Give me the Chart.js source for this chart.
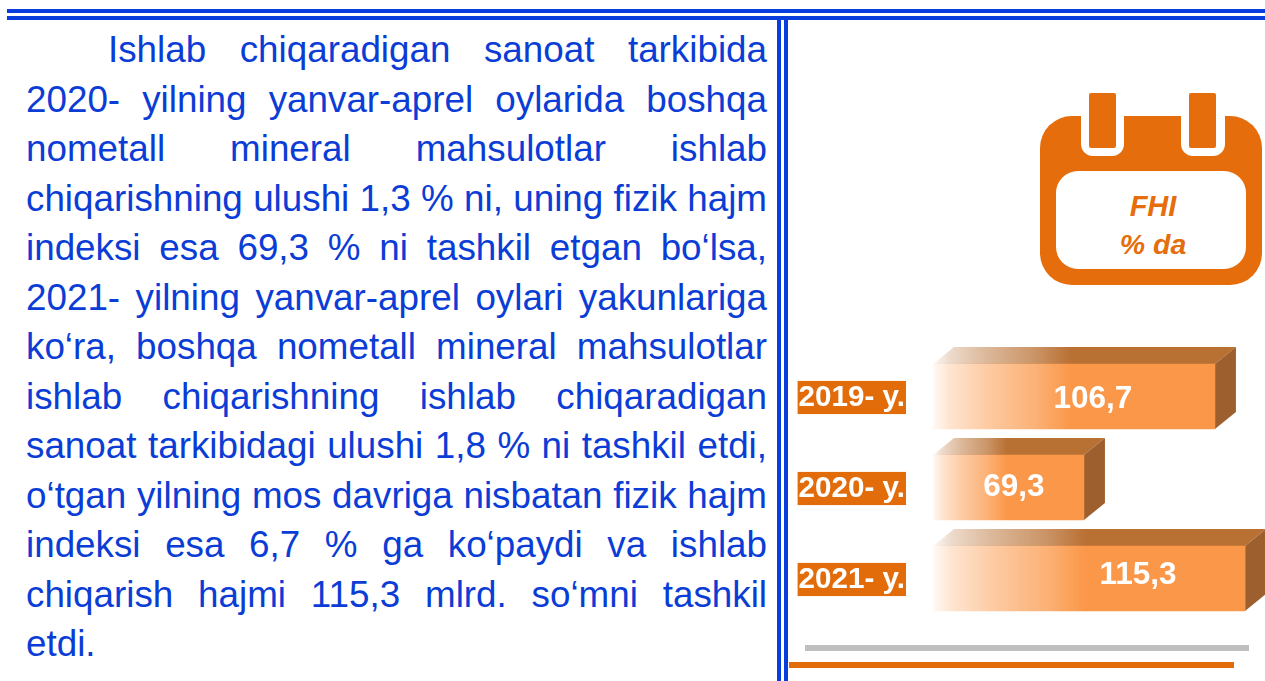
<!DOCTYPE html>
<html lang="uz">
<head>
<meta charset="utf-8">
<title>FHI % da</title>
<script src="https://cdn.jsdelivr.net/npm/chart.js@4"></script>
<style>
  html, body { margin: 0; height: 100%; background: #fff; overflow: hidden; }
  body { position: relative; width: 1265px; height: 681px; font-family: "Liberation Sans", Arial, sans-serif; }
  .rule { position: absolute; background: #0a3edc; }
  #text { position: absolute; left: 26px; top: 25px; width: 741px; color: #0b3dd6; font-size: 36.8px; line-height: 49.5px; }
  #text div { text-align: justify; text-align-last: justify; white-space: nowrap; }
  #text div.first { margin-left: 82px; }
  #text div.last { text-align-last: left; }
  #icon { position: absolute; left: 1030px; top: 85px; }
  #chartBox { position: absolute; left: 790px; top: 330px; width: 475px; height: 351px; }
</style>
</head>
<body>
<div class="rule" style="left:7px;top:9px;width:1258px;height:4px"></div>
<div class="rule" style="left:7px;top:16px;width:1258px;height:4px"></div>
<div class="rule" style="left:777px;top:16px;width:4px;height:665px"></div>
<div class="rule" style="left:784px;top:16px;width:4px;height:665px"></div>

<div id="text"></div>

<svg id="icon" width="235" height="205" viewBox="1030 85 235 205">
  <rect x="1040" y="116" width="222" height="169" rx="32" fill="#e56d0b"/>
  <rect x="1056" y="171" width="190" height="98" rx="22" fill="#fff"/>
  <path d="M1081 116V144a12 12 0 0 0 12 12H1112a12 12 0 0 0 12-12V116Z" fill="#fff"/>
  <path d="M1181 116V144a12 12 0 0 0 12 12H1213a12 12 0 0 0 12-12V116Z" fill="#fff"/>
  <rect x="1089" y="93" width="27" height="55" rx="2" fill="#e56d0b"/>
  <rect x="1189" y="93" width="27" height="55" rx="2" fill="#e56d0b"/>
  <text x="1153" y="216" text-anchor="middle" font-family="Liberation Sans" font-size="29" font-weight="bold" font-style="italic" fill="#e56d0b">FHI</text>
  <text x="1153" y="254" text-anchor="middle" font-family="Liberation Sans" font-size="28.5" font-weight="bold" font-style="italic" fill="#e56d0b">% da</text>
</svg>

<div id="chartBox"><canvas id="fhiChart" width="475" height="351"></canvas></div>

<div style="position:absolute;left:805px;top:645px;width:444px;height:6px;background:#bfbfbf"></div>
<div style="position:absolute;left:789px;top:662px;width:445px;height:6px;background:#e36c0a"></div>

<script>
const textLines = [
    'Ishlab chiqaradigan sanoat tarkibida',
    '2020- yilning yanvar-aprel oylarida boshqa',
    'nometall mineral mahsulotlar ishlab',
    'chiqarishning ulushi 1,3 % ni, uning fizik hajm',
    'indeksi esa 69,3 % ni tashkil etgan bo‘lsa,',
    '2021- yilning yanvar-aprel oylari yakunlariga',
    'ko‘ra, boshqa nometall mineral mahsulotlar',
    'ishlab chiqarishning ishlab chiqaradigan',
    'sanoat tarkibidagi ulushi 1,8 % ni tashkil etdi,',
    'o‘tgan yilning mos davriga nisbatan fizik hajm',
    'indeksi esa 6,7 % ga ko‘paydi va ishlab',
    'chiqarish hajmi 115,3 mlrd. so‘mni tashkil',
    'etdi.'
];

const years = ['2019- y.', '2020- y.', '2021- y.'];
const values = [106.7, 69.3, 115.3];
const valueLabels = ['106,7', '69,3', '115,3'];

// where the number sits along each bar, as in the picture
const labelFractions = [0.567, 0.536, 0.657];
const labelShifts = [2.5, -0.5, -3.5];

const axisMin = 26.2;
const axisMax = 121;

const frontColor = [251, 151, 72];
const topColor = [185, 112, 51];
const sideColor = '#9c5f2d';
const depthX = 21;
const depthY = 17;

// [position along the fade, opacity]
const fadeStops = [[0, 0.05], [0.12, 0.25], [0.39, 0.5], [0.74, 0.75], [1, 1]];

textLines.forEach((line, i) => {
    const div = document.createElement('div');
    div.textContent = line;
    if (i === 0) div.className = 'first';
    if (i === textLines.length - 1) div.className = 'last';
    document.getElementById('text').appendChild(div);
});

function fadeGradient(ctx, left, right, rgb) {
    const g = ctx.createLinearGradient(left, 0, left + (right - left) * 0.49, 0);
    fadeStops.forEach(s => g.addColorStop(s[0], `rgba(${rgb.join(',')},${s[1]})`));
    return g;
}

// top and side faces of the boxes, taken from the bars themselves
const boxFaces = {
    id: 'boxFaces',
    beforeDatasetsDraw(chart) {
        const ctx = chart.ctx;
        chart.getDatasetMeta(0).data.forEach(bar => {
            const left = bar.base;
            const right = bar.x;
            const top = bar.y - bar.height / 2;
            const bottom = bar.y + bar.height / 2;

            ctx.fillStyle = fadeGradient(ctx, left, right, topColor);
            ctx.beginPath();
            ctx.moveTo(left, top);
            ctx.lineTo(left + depthX, top - depthY);
            ctx.lineTo(right + depthX, top - depthY);
            ctx.lineTo(right, top);
            ctx.closePath();
            ctx.fill();

            ctx.fillStyle = sideColor;
            ctx.beginPath();
            ctx.moveTo(right, top);
            ctx.lineTo(right + depthX, top - depthY);
            ctx.lineTo(right + depthX, bottom - depthY);
            ctx.lineTo(right, bottom);
            ctx.closePath();
            ctx.fill();
        });
    },
    afterDatasetsDraw(chart) {
        const ctx = chart.ctx;
        ctx.save();
        ctx.fillStyle = '#fff';
        ctx.font = 'bold 31.5px "Liberation Sans"';
        ctx.textAlign = 'center';
        ctx.textBaseline = 'middle';
        chart.getDatasetMeta(0).data.forEach((bar, i) => {
            const x = bar.base + (bar.x - bar.base) * labelFractions[i];
            ctx.fillText(valueLabels[i], x, bar.y + labelShifts[i]);
        });
        ctx.restore();
    }
};

new Chart(document.getElementById('fhiChart').getContext('2d'), {
    type: 'bar',
    data: {
        labels: years,
        datasets: [{
            data: values,
            base: axisMin,
            barThickness: 65,
            borderWidth: 0,
            backgroundColor(c) {
                const area = c.chart.chartArea;
                if (!area || c.raw === undefined) return 'rgb(251,151,72)';
                const right = c.chart.scales.x.getPixelForValue(c.raw);
                return fadeGradient(c.chart.ctx, area.left, right, frontColor);
            }
        }]
    },
    plugins: [boxFaces],
    options: {
        indexAxis: 'y',
        responsive: false,
        animation: false,
        devicePixelRatio: 1,
        layout: { padding: { top: 21, bottom: 57 } },
        plugins: { legend: { display: false }, tooltip: { enabled: false } },
        scales: {
            x: { display: false, min: axisMin, max: axisMax },
            y: {
                afterFit(scale) { scale.width = 143; },
                border: { display: false },
                // tickLength only makes the gap to the labels, the marks are not drawn
                grid: { display: false, drawTicks: true, tickLength: 28 },
                ticks: {
                    color: '#fff',
                    font: { family: 'Liberation Sans', size: 29.6, weight: 'bold', lineHeight: 1.12 },
                    padding: 0,
                    labelOffset: 1,
                    showLabelBackdrop: true,
                    backdropColor: '#e36c0a',
                    backdropPadding: { x: 1, y: 0 }
                }
            }
        }
    }
});
</script>
</body>
</html>
